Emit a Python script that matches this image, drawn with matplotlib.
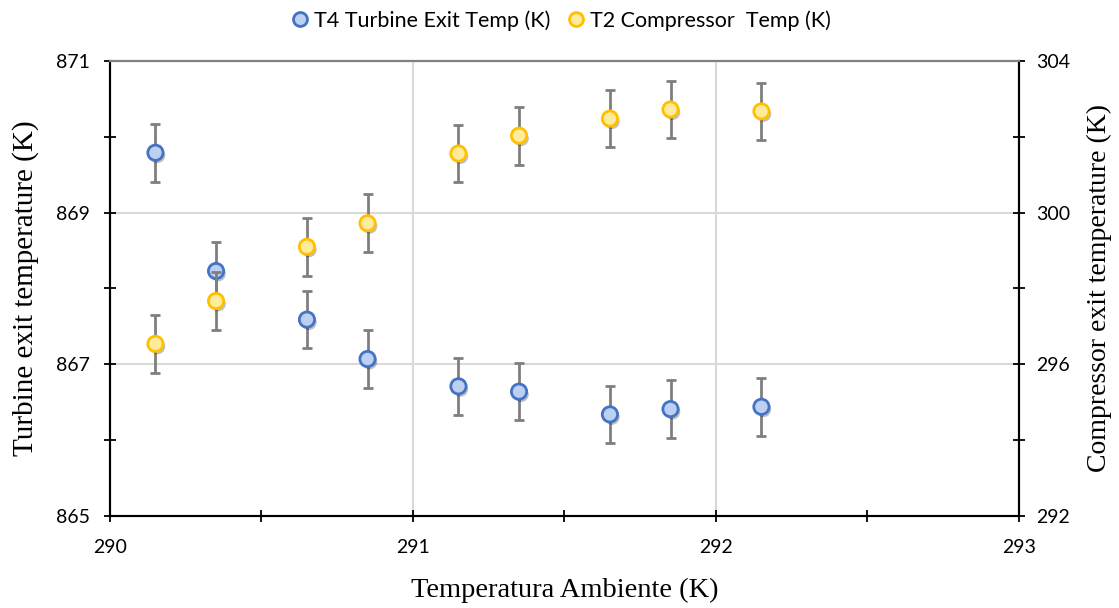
import numpy as np
import matplotlib.pyplot as plt
from matplotlib.lines import Line2D
import matplotlib.patheffects as pe

# Datos
t_amb = [290.15, 290.35, 290.65, 290.85, 291.15, 291.35, 291.65, 291.85, 292.15]
t4_turbine = [869.79, 868.23, 867.59, 867.07, 866.71, 866.64, 866.34, 866.41, 866.44]
t4_err = [0.38, 0.38, 0.38, 0.38, 0.38, 0.38, 0.38, 0.38, 0.38]
t2_compressor = [296.54, 297.67, 299.10, 299.72, 301.56, 302.03, 302.48, 302.72, 302.67]
t2_err = [0.76, 0.76, 0.76, 0.76, 0.76, 0.76, 0.76, 0.76, 0.76]

serif = 'Liberation Serif'
sans = 'Lato'

fig = plt.figure(figsize=(11.19, 6.08), dpi=100)
ax1 = fig.add_axes([0.0983, 0.1513, 0.8123, 0.7484])
ax2 = ax1.twinx()

blue_edge, blue_face = '#4472C4', '#BCD0F2'
gold_edge, gold_face = '#FFC000', '#FFEB9C'
grey = '#7F7F7F'
shadow = [pe.SimplePatchShadow(offset=(1.5, -2), alpha=0.25, shadow_rgbFace='k'), pe.Normal()]

ax1.errorbar(t_amb, t4_turbine, yerr=t4_err, fmt='none', ecolor=grey, elinewidth=2, capsize=3.5, capthick=2, zorder=2)
l1, = ax1.plot(t_amb, t4_turbine, 'o', ms=11, mfc=blue_face, mec=blue_edge, mew=2, zorder=3)
l1.set_path_effects(shadow)

ax2.errorbar(t_amb, t2_compressor, yerr=t2_err, fmt='none', ecolor=grey, elinewidth=2, capsize=3.5, capthick=2, zorder=2)
l2, = ax2.plot(t_amb, t2_compressor, 'o', ms=11, mfc=gold_face, mec=gold_edge, mew=2, zorder=3)
l2.set_path_effects(shadow)

ax1.set_xlim(290, 293)
ax1.set_ylim(865, 871)
ax2.set_ylim(292, 304)

ax1.set_xticks([290, 291, 292, 293])
ax1.set_xticks([290.5, 291.5, 292.5], minor=True)
ax1.set_yticks([865, 867, 869, 871])
ax1.set_yticks([866, 868, 870], minor=True)
ax2.set_yticks([292, 296, 300, 304])
ax2.set_yticks([294, 298, 302], minor=True)

ax1.grid(True, which='major', color='#D9D9D9', lw=1.5)
ax1.set_axisbelow(True)

for ax in (ax1, ax2):
    ax.tick_params(which='both', direction='inout', length=9, width=1.3, labelsize=14, color='k')
    for lab in ax.get_xticklabels() + ax.get_yticklabels():
        lab.set_fontfamily(sans)
    for s in ('left', 'right', 'bottom'):
        ax.spines[s].set_color('k')
        ax.spines[s].set_linewidth(1.5)
    ax.spines['top'].set_color('#808080')
    ax.spines['top'].set_linewidth(1.5)
ax1.tick_params(axis='x', pad=12)
ax1.tick_params(axis='y', pad=10)
ax2.tick_params(axis='y', pad=8)

ax1.set_xlabel('Temperatura Ambiente (K)', family=serif, fontsize=20.5, labelpad=16)
ax1.set_ylabel('Turbine exit temperature (K)', family=serif, fontsize=21, labelpad=12)
ax2.set_ylabel('Compressor exit temperature (K)', family=serif, fontsize=20, labelpad=12)

handles = [Line2D([], [], ls='none', marker='o', ms=10, mfc=blue_face, mec=blue_edge, mew=2),
           Line2D([], [], ls='none', marker='o', ms=10, mfc=gold_face, mec=gold_edge, mew=2)]
fig.legend(handles, ['T4 Turbine Exit Temp (K)', 'T2 Compressor  Temp (K)'], loc='upper center',
           bbox_to_anchor=(0.5, 1.015), ncol=2, frameon=False, prop={'family': sans, 'size': 15.5},
           handletextpad=0.1, columnspacing=0.6, handlelength=1.1)

fig.savefig('out.png', dpi=100)
